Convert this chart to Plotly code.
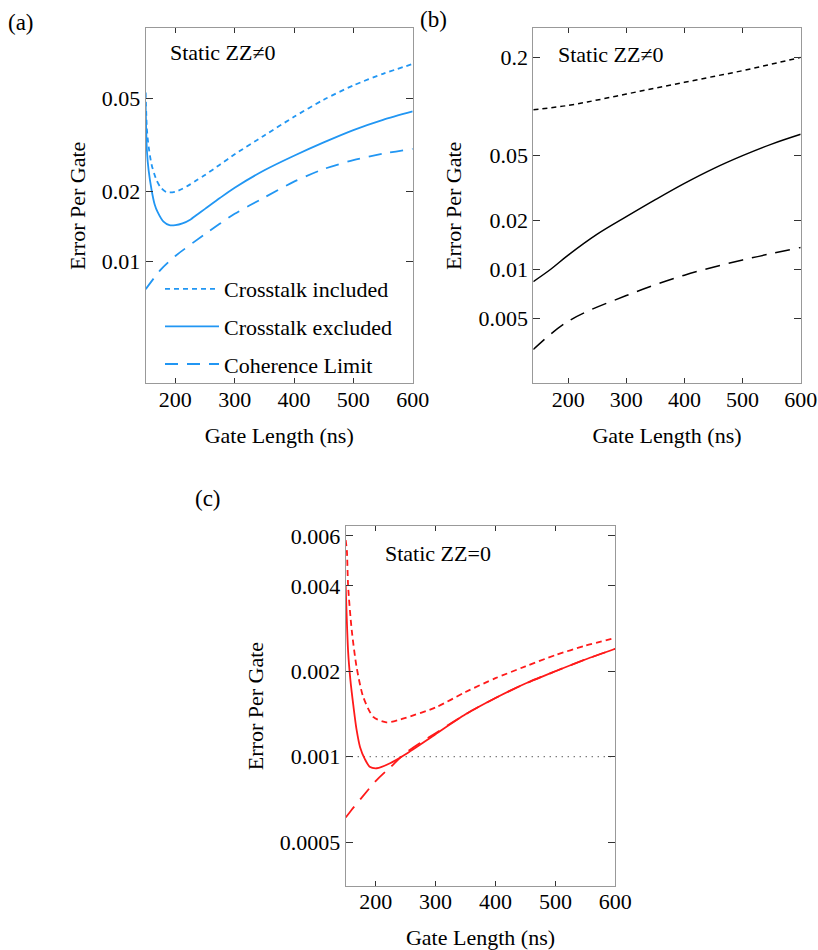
import math
import plotly.graph_objects as go

# ---------------- data ----------------
# Panel (a): Static ZZ != 0
a_inc_x = [150, 152, 155, 160, 168, 175, 185, 200, 212, 225, 237, 250, 275, 300, 350, 400, 450, 500, 550, 600]
a_inc_y = [0.053, 0.037, 0.031, 0.026, 0.0224, 0.0208, 0.0198, 0.0199, 0.0205, 0.0214, 0.0224, 0.0235, 0.0260, 0.0288, 0.0347, 0.0417, 0.0494, 0.0569, 0.0638, 0.0703]
a_exc_x = [150, 152, 155, 160, 165, 170, 180, 190, 200, 212, 225, 237, 250, 275, 300, 350, 400, 450, 500, 550, 600]
a_exc_y = [0.046, 0.030, 0.0245, 0.0202, 0.0176, 0.0163, 0.0148, 0.0143, 0.0143, 0.01455, 0.0151, 0.0159, 0.0168, 0.0187, 0.0207, 0.0246, 0.0284, 0.0324, 0.0366, 0.0405, 0.044]
a_coh_x = [150, 175, 200, 250, 300, 350, 400, 450, 500, 550, 600]
a_coh_y = [0.0076, 0.0092, 0.01055, 0.0131, 0.0160, 0.0188, 0.0220, 0.0249, 0.0272, 0.0290, 0.0304]

# Panel (b): Static ZZ != 0
b_inc_x = [140, 200, 250, 300, 350, 400, 450, 500, 550, 600]
b_inc_y = [0.095, 0.101, 0.109, 0.1186, 0.129, 0.140, 0.152, 0.165, 0.181, 0.199]
b_exc_x = [140, 170, 200, 250, 300, 350, 400, 450, 500, 550, 600]
b_exc_y = [0.0084, 0.0100, 0.0122, 0.0164, 0.0210, 0.0267, 0.0336, 0.0414, 0.0497, 0.0585, 0.0672]
b_coh_x = [140, 200, 300, 400, 500, 600]
b_coh_y = [0.00322, 0.0048, 0.0069, 0.0092, 0.0114, 0.0136]

# Panel (c): Static ZZ = 0
c_inc_x = [150, 152, 154, 160, 168, 179, 196, 218, 240, 250, 300, 350, 400, 450, 500, 550, 600]
c_inc_y = [0.0058, 0.0053, 0.0040, 0.0028, 0.00208, 0.00163, 0.00138, 0.00132, 0.00135, 0.00137, 0.00149, 0.00169, 0.00189, 0.00208, 0.00228, 0.00246, 0.00262]
c_exc_x = [150, 154, 158, 163, 168, 174, 182, 190, 202, 224, 250, 300, 350, 400, 450, 500, 550, 600]
c_exc_y = [0.0040, 0.00235, 0.00185, 0.0015, 0.00125, 0.00108, 0.00098, 0.000922, 0.00091, 0.000948, 0.00102, 0.00120, 0.00141, 0.00161, 0.00181, 0.00200, 0.00220, 0.00240]
c_coh_x = [150, 160, 175, 200, 225, 250, 275, 300, 350, 400, 450, 500, 550, 600]
c_coh_y = [0.00061, 0.00065, 0.00071, 0.00082, 0.00092, 0.00103, 0.00112, 0.00121, 0.00141, 0.00161, 0.00181, 0.00200, 0.00220, 0.00240]
c_ref_x = [150, 600]
c_ref_y = [0.001, 0.001]

x_ticks = [200, 300, 400, 500, 600]
a_yticks = [0.01, 0.02, 0.05]
a_yticklabels = ["0.01", "0.02", "0.05"]
b_yticks = [0.005, 0.01, 0.02, 0.05, 0.2]
b_yticklabels = ["0.005", "0.01", "0.02", "0.05", "0.2"]
c_yticks = [0.0005, 0.001, 0.002, 0.004, 0.006]
c_yticklabels = ["0.0005", "0.001", "0.002", "0.004", "0.006"]

legend_names = ["Crosstalk included", "Crosstalk excluded", "Coherence Limit"]

FONT = "Liberation Serif"
FS = 22
BLUE = "#2196F3"
RED = "#FF1A1A"
BLACK = "#000000"
W, H = 818, 950

fig = go.Figure()

def add(x, y, color, dash, xa, ya, name=None, show=False, group=None, width=1.8, smooth=0.7):
    fig.add_trace(go.Scatter(
        x=x, y=y, mode="lines", name=name, showlegend=show, legendgroup=group,
        line=dict(color=color, dash=dash, width=width, shape="spline", smoothing=smooth),
        xaxis=xa, yaxis=ya, hoverinfo="skip"))

add(a_inc_x, a_inc_y, BLUE, "5px,4px", "x", "y", legend_names[0], True, "g1")
add(a_exc_x, a_exc_y, BLUE, "solid", "x", "y", legend_names[1], True, "g2")
add(a_coh_x, a_coh_y, BLUE, "13px,9px", "x", "y", legend_names[2], True, "g3")
add(b_inc_x, b_inc_y, BLACK, "5px,4px", "x2", "y2", width=1.5, smooth=1.0)
add(b_exc_x, b_exc_y, BLACK, "solid", "x2", "y2", width=1.5, smooth=1.0)
add(b_coh_x, b_coh_y, BLACK, "15px,9px", "x2", "y2", width=1.5, smooth=1.0)
fig.add_trace(go.Scatter(x=c_ref_x, y=c_ref_y, mode="lines", showlegend=False,
                         line=dict(color="#444444", dash="1px,5px", width=1.3),
                         xaxis="x3", yaxis="y3", hoverinfo="skip"))
add(c_coh_x, c_coh_y, RED, "14px,9px", "x3", "y3")
add(c_inc_x, c_inc_y, RED, "6px,4px", "x3", "y3")
add(c_exc_x, c_exc_y, RED, "solid", "x3", "y3")

def xax(domain, rng, anchor):
    return dict(domain=domain, range=rng, anchor=anchor, tickvals=x_ticks, automargin=False,
                ticks="inside", ticklen=5, tickwidth=1, tickcolor="#333",
                showline=True, linecolor="#999", linewidth=1, mirror="allticks",
                showgrid=False, zeroline=False, ticklabelstandoff=-4,
                tickfont=dict(family=FONT, size=FS, color="black"),
                title=dict(text="Gate Length (ns)", font=dict(family=FONT, size=FS, color="black"), standoff=16))

def yax(domain, rng, anchor, vals, labels):
    return dict(domain=domain, type="log", range=rng, anchor=anchor, automargin=False,
                tickvals=vals, ticktext=labels,
                ticks="inside", ticklen=7, tickwidth=1, tickcolor="#333",
                showline=True, linecolor="#999", linewidth=1, mirror="allticks",
                showgrid=False, zeroline=False,
                tickfont=dict(family=FONT, size=FS, color="black"),
                title=dict(text="Error Per Gate", font=dict(family=FONT, size=FS, color="black"), standoff=10))

top_dom = [1 - 383.3 / H, 1 - 28.3 / H]
bot_dom = [1 - 886 / H, 1 - 526 / H]

fig.update_layout(
    width=W, height=H, autosize=False,
    margin=dict(l=0, r=0, t=0, b=0, autoexpand=False),
    paper_bgcolor="white", plot_bgcolor="white",
    font=dict(family=FONT, color="black"),
    xaxis=xax([145.7 / W, 412.7 / W], [150, 600], "y"),
    yaxis=yax(top_dom, [math.log10(0.003), math.log10(0.1)], "x", a_yticks, a_yticklabels),
    xaxis2=xax([533.3 / W, 800.7 / W], [140, 600], "y2"),
    yaxis2=yax(top_dom, [math.log10(0.002), math.log10(0.3)], "x2", b_yticks, b_yticklabels),
    xaxis3=xax([345.7 / W, 615.3 / W], [150, 600], "y3"),
    yaxis3=yax(bot_dom, [math.log10(0.00035), math.log10(0.0065)], "x3", c_yticks, c_yticklabels),
    legend=dict(x=160 / W, y=1 - 268 / H, xanchor="left", yanchor="top",
                bgcolor="rgba(0,0,0,0)", borderwidth=0,
                font=dict(family=FONT, size=FS, color="black"),
                traceorder="grouped", tracegroupgap=6, itemwidth=54),
    showlegend=True,
)

def ann(text, x_px, y_px, xanchor="center", size=FS):
    fig.add_annotation(text=text, x=x_px / W, y=1 - y_px / H, xref="paper", yref="paper",
                       xanchor=xanchor, yanchor="middle", showarrow=False,
                       font=dict(family=FONT, size=size, color="black"))

ann("(a)", 21, 22, size=23)
ann("(b)", 433, 20, size=23)
ann("(c)", 208, 498, size=23)
ann("Static ZZ≠0", 168, 52, "left")
ann("Static ZZ≠0", 556, 55, "left")
ann("Static ZZ=0", 383, 553, "left")

post = ("document.documentElement.style.margin='0';document.documentElement.style.overflow='hidden';"
        "document.body.style.margin='0';document.body.style.padding='0';document.body.style.overflow='hidden';"
        "var gd=document.getElementById('{plot_id}');"
        "Plotly.relayout(gd,{width:818,height:950});")

fig.write_html("out.html", config={"responsive": False, "displayModeBar": False}, post_script=post)
